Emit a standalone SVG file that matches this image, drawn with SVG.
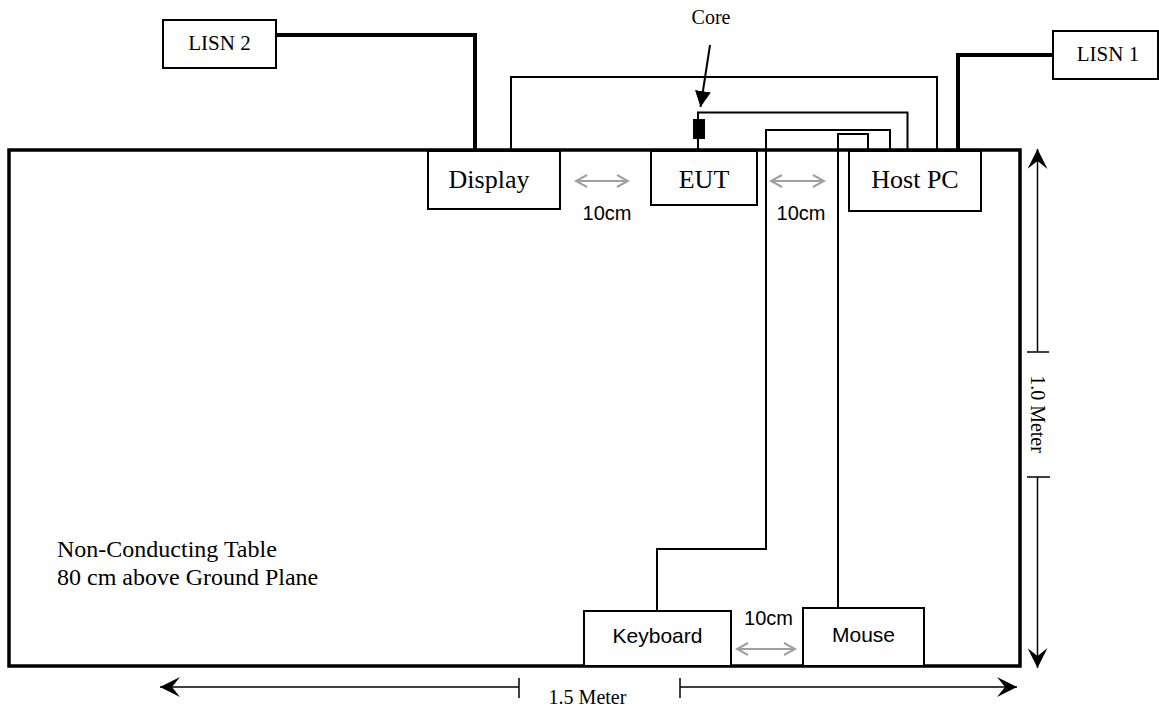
<svg xmlns="http://www.w3.org/2000/svg" width="1159" height="711" viewBox="0 0 1159 711">
<style>
  .box { fill: #ffffff; stroke: #000000; stroke-width: 2; }
  .table { fill: #ffffff; stroke: #000000; stroke-width: 3.5; }
  .cable { fill: none; stroke: #000000; stroke-width: 2; }
  .power { fill: none; stroke: #000000; stroke-width: 4; }
  .gap { fill: none; stroke: #a0a0a0; stroke-width: 2; }
  .dim { fill: none; stroke: #000000; stroke-width: 1.5; }
  .serif { font-family: "Liberation Serif", "Times New Roman", serif; fill: #000000; }
  .sans { font-family: "Liberation Sans", Arial, sans-serif; fill: #000000; }
</style>
<defs>
  <marker id="dimHead" markerUnits="userSpaceOnUse" markerWidth="20" markerHeight="20" viewBox="0 0 20 20" refX="20" refY="10" orient="auto-start-reverse">
    <path d="M20,10 L0,0 L8,10 L0,20 Z" fill="#000000"/>
  </marker>
  <marker id="gapHead" markerUnits="userSpaceOnUse" markerWidth="14" markerHeight="14" viewBox="0 0 14 14" refX="12" refY="7" orient="auto-start-reverse">
    <path d="M1,1 L12,7 L1,13" fill="none" stroke="#a0a0a0" stroke-width="2"/>
  </marker>
  <marker id="coreHead" markerUnits="userSpaceOnUse" markerWidth="16" markerHeight="16" viewBox="0 0 16 16" refX="16" refY="8" orient="auto">
    <path d="M0,0 L16,8 L0,16 Z" fill="#000000"/>
  </marker>
</defs>

<g id="table">
  <rect class="table" x="9" y="150" width="1011" height="516"/>
  <text class="serif" x="57" y="557" font-size="24">Non-Conducting Table</text>
  <text class="serif" x="57" y="585" font-size="24">80 cm above Ground Plane</text>
</g>

<g id="connectors">
  <!-- LISN power cables -->
  <path class="power" d="M276,35 H475 V151"/>
  <path class="power" d="M1053,55 H958 V151"/>
  <!-- Display to Host PC -->
  <path class="cable" d="M511,151 V77 H937 V151"/>
  <!-- EUT to Host PC via core -->
  <path class="cable" d="M698,151 V139 M698,119 V112.5 H907.5 V151"/>
  <!-- Keyboard to Host PC -->
  <path class="cable" d="M657,611 V549 H766 V130 H890 V151"/>
  <!-- Mouse to Host PC -->
  <path class="cable" d="M838,608 V134 H868 V153"/>
  <!-- Core pointer -->
  <path class="cable" d="M710,45 L700.5,107" marker-end="url(#coreHead)"/>
  <!-- spacing arrows -->
  <path class="gap" d="M576,181 H628" marker-start="url(#gapHead)" marker-end="url(#gapHead)"/>
  <path class="gap" d="M771,181 H824" marker-start="url(#gapHead)" marker-end="url(#gapHead)"/>
  <path class="gap" d="M737,649 H795" marker-start="url(#gapHead)" marker-end="url(#gapHead)"/>
  <!-- dimension lines -->
  <path class="dim" d="M519,687 H160" marker-end="url(#dimHead)"/>
  <path class="dim" d="M519,678 V698"/>
  <path class="dim" d="M680,687 H1017" marker-end="url(#dimHead)"/>
  <path class="dim" d="M680,678 V698"/>
  <path class="dim" d="M1037.5,352 V149" marker-end="url(#dimHead)"/>
  <path class="dim" d="M1027,352 H1049"/>
  <path class="dim" d="M1037.5,477 V668" marker-end="url(#dimHead)"/>
  <path class="dim" d="M1027,477 H1050"/>
</g>

<g id="core">
  <rect x="693" y="119" width="12" height="20" fill="#000000"/>
  <text class="serif" x="711" y="24" font-size="20" text-anchor="middle">Core</text>
</g>

<g id="lisn2">
  <rect class="box" x="163" y="20" width="113" height="48"/>
  <text class="serif" x="219.5" y="49.5" font-size="21" text-anchor="middle">LISN 2</text>
</g>

<g id="lisn1">
  <rect class="box" x="1053" y="31" width="105" height="48"/>
  <text class="serif" x="1108" y="61" font-size="21" text-anchor="middle">LISN 1</text>
</g>

<g id="display">
  <rect class="box" x="428" y="151" width="132" height="58"/>
  <text class="serif" x="489" y="188" font-size="26" text-anchor="middle">Display</text>
</g>

<g id="eut">
  <rect class="box" x="651" y="151" width="106" height="54"/>
  <text class="serif" x="704" y="188" font-size="26" text-anchor="middle">EUT</text>
</g>

<g id="hostpc">
  <rect class="box" x="849" y="151" width="132" height="60"/>
  <text class="serif" x="915" y="188" font-size="26" text-anchor="middle">Host PC</text>
</g>

<g id="keyboard">
  <rect class="box" x="584" y="611" width="147" height="55"/>
  <text class="sans" x="657.5" y="643" font-size="21" text-anchor="middle">Keyboard</text>
</g>

<g id="mouse">
  <rect class="box" x="803" y="608" width="121" height="58"/>
  <text class="sans" x="863.5" y="642" font-size="21" text-anchor="middle">Mouse</text>
</g>

<g id="labels">
  <text class="sans" x="607" y="220" font-size="20" text-anchor="middle">10cm</text>
  <text class="sans" x="801" y="220" font-size="20" text-anchor="middle">10cm</text>
  <text class="sans" x="768.5" y="625" font-size="20" text-anchor="middle">10cm</text>
  <text class="serif" x="587.5" y="704" font-size="20" text-anchor="middle">1.5 Meter</text>
  <text class="serif" font-size="20" text-anchor="middle" transform="translate(1031,414) rotate(90)">1.0 Meter</text>
</g>
</svg>
